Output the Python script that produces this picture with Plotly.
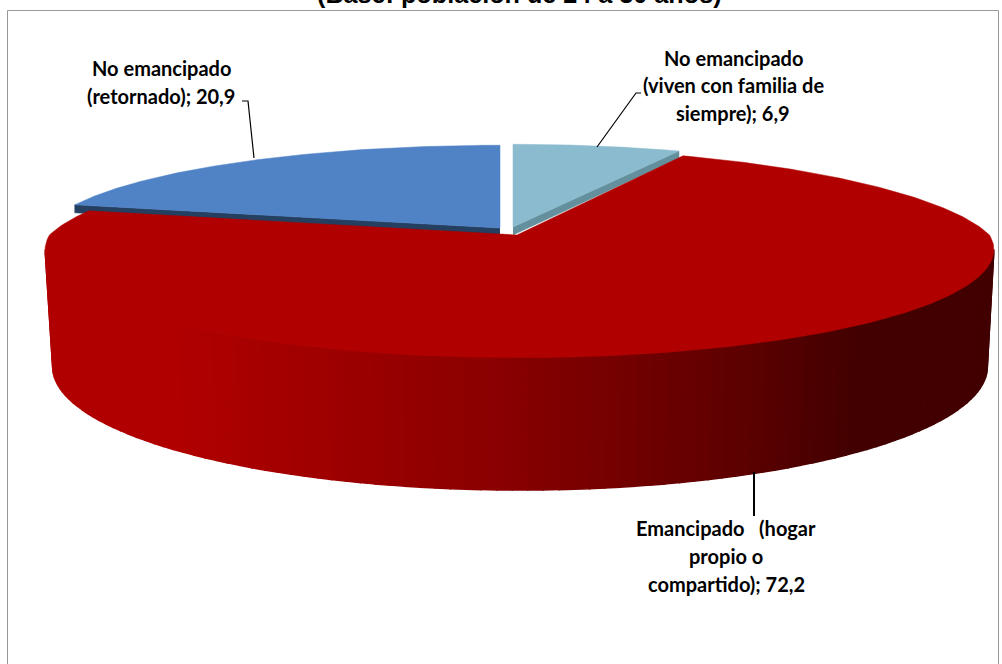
import numpy as np
import plotly.graph_objects as go

# ---- data
categories = ["No emancipado (viven con familia de siempre)", "Emancipado (hogar propio o compartido)", "No emancipado (retornado)"]
values = [6.9, 72.2, 20.9]
title_text = "(Base: población de 24 a 30 años)"
label_light = ["No emancipado", "(viven con familia de", "siempre); 6,9"]
label_red = ["Emancipado   (hogar", "propio o", "compartido); 72,2"]
label_blue = ["No emancipado", "(retornado); 20,9"]

# ---- style / projection
TOP_RED = "#B00000"
TOP_BLUE = "#5082C6"
TOP_LIGHT = "#8ABBCF"
SIDE_BLUE = "#243F60"
SIDE_LIGHT = "#63909C"
K = 0.136

fracs = np.array(values) / sum(values)
edges = np.concatenate([[0], np.cumsum(fracs)]) * 2 * np.pi


def proj(t, ax, ay, A, h):
    u, v = np.sin(t), np.cos(t)
    d = 1 + K * v
    return ax + A * u / d, ay - h * v / d


def wedge(i, ax, ay, A, h, n=160):
    t = np.linspace(edges[i], edges[i + 1], n)
    x, y = proj(t, ax, ay, A, h)
    return np.r_[ax, x, ax], np.r_[ay, y, ay]


def red_rim(t):
    # rim of the large slice: the back half is slightly bevelled inwards
    t = np.asarray(t, dtype=float)
    u, v = np.sin(t), np.cos(t)
    d = 1 + K * v
    A = 470 - 36 * np.maximum(v, 0)
    h = np.where(v > 0, 98, 106)
    return 519.5 + A * u / d, 235 - h * v / d


def poly(x, y, color, w=0.5):
    return go.Scatter(x=x, y=y, mode="lines", fill="toself", fillcolor=color,
                      line=dict(color=color, width=w), hoverinfo="skip", showlegend=False)


fig = go.Figure()

# light-blue slice
LA = (513, 227, 444, 94)
x, y = wedge(0, *LA)
cx, cy = proj(edges[1], *LA)
fig.add_trace(poly([LA[0], cx, cx, LA[0]], [LA[1], cy, cy + 7, LA[1] + 8], SIDE_LIGHT))
fig.add_trace(poly(x, y, TOP_LIGHT))

# blue slice
BA = (500, 228, 455, 94)
x, y = wedge(2, *BA)
cx, cy = proj(edges[2], *BA)
fig.add_trace(poly([BA[0], cx, cx, BA[0]], [BA[1], cy, cy + 8, BA[1] + 7], SIDE_BLUE))
fig.add_trace(poly(x, y, TOP_BLUE))

# red side wall, built as gradient strips
RB = (520, 350, 463, 121)
ts = np.linspace(np.pi * 0.543, np.pi * 1.457, 100)


def shade(px):
    xs = [60, 180, 500, 750, 860, 1000]
    rs = [176, 176, 138, 92, 66, 66]
    return f"rgb({int(np.interp(px, xs, rs))},0,0)"


for a, b in zip(ts[:-1], ts[1:]):
    xa, ya = red_rim(a)
    xb, yb = red_rim(b)
    xc, yc = proj(b, *RB)
    xd, yd = proj(a, *RB)
    fig.add_trace(poly([xa, xb, xc, xd, xa], [ya, yb, yc, yd, ya], shade((xa + xb) / 2), w=1.5))

# red top
t = np.linspace(edges[1], edges[2], 300)
x, y = red_rim(t)
fig.add_trace(poly(np.r_[517, x, 517], np.r_[235, y, 235], TOP_RED))

# leader lines
for lx, ly, w in [([242, 248, 254], [101, 101, 158], 1.2),
                  ([597, 636, 641], [147, 93, 93], 1.2),
                  ([754, 754], [472, 516], 2)]:
    fig.add_trace(go.Scatter(x=lx, y=ly, mode="lines", line=dict(color="#000", width=w),
                             hoverinfo="skip", showlegend=False))


def text(s, x, y, size=20, family="Lato"):
    fig.add_annotation(x=x, y=y, xref="x", yref="y", text=f"<b>{s}</b>", showarrow=False,
                       font=dict(family=family, size=size, color="#000"),
                       xanchor="center", yanchor="middle")


for s, yy in zip(label_blue, [68, 96]):
    text(s, 161, yy)
for s, yy in zip(label_light, [58, 85, 113]):
    text(s, 733, yy)
for s, yy in zip(label_red, [528, 556, 584]):
    text(s, 726, yy)

fig.add_annotation(x=519.5 / 1002, y=1 - 7.5 / 664, xref="paper", yref="paper", text=f"<b>{title_text}</b>",
                   showarrow=False, font=dict(family="Liberation Sans", size=25.2, color="#000"),
                   xanchor="center", yanchor="bottom", borderpad=0, borderwidth=0)

# chart frame
fig.add_shape(type="rect", x0=7.5, x1=998.5, y0=10.5, y1=700, line=dict(color="#999999", width=1),
              fillcolor="rgba(0,0,0,0)", layer="below")

fig.update_layout(width=1002, height=664, margin=dict(l=0, r=0, t=0, b=0), autosize=False,
                  paper_bgcolor="white", plot_bgcolor="white", showlegend=False,
                  xaxis=dict(range=[0, 1002], visible=False, fixedrange=True),
                  yaxis=dict(range=[664, 0], visible=False, fixedrange=True))
fig.write_html("out.html", config={"displayModeBar": False},
               post_script="document.body.style.margin='0';document.documentElement.style.overflow='hidden';")
